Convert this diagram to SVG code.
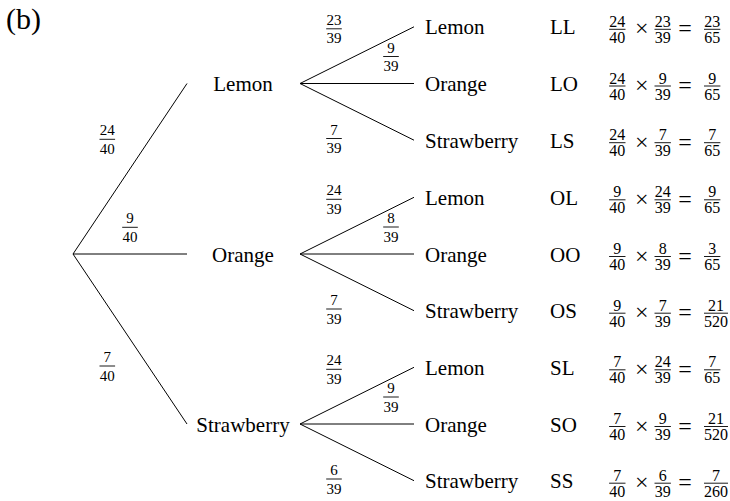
<svg xmlns="http://www.w3.org/2000/svg" width="730" height="501" viewBox="0 0 730 501">
<style>
text{font-family:"Liberation Serif","Times New Roman",serif;fill:#000}
.nd{font-size:21px}
.ndm{font-size:21px;text-anchor:middle}
.f{font-size:15px;text-anchor:middle}
.e{font-size:16px;text-anchor:middle}
.op{font-size:24px;text-anchor:middle}
.bar{stroke:#000;stroke-width:0.9}
.edge{stroke:#000;stroke-width:1;fill:none}
</style>
<rect width="730" height="501" fill="#fff"/>
<text x="6" y="29" style="font-size:30px">(b)</text>

<g id="connectors">
<path class="edge" d="M73,254 L187,83.5 M73,254 L187,254 M73,254 L187,424"/>
<path class="edge" d="M300,83.5 L414,26.8 M300,83.5 L414,83.5 M300,83.5 L414,140.2"/>
<path class="edge" d="M300,254 L414,197.3 M300,254 L414,254 M300,254 L414,310.7"/>
<path class="edge" d="M300,424 L414,367.3 M300,424 L414,424 M300,424 L414,480.7"/>
</g>

<g id="edge-labels">
<g transform="translate(107.3,139.3)"><text class="f" y="-4">24</text><line class="bar" x1="-7.8" x2="7.8"/><text class="f" y="14.5">40</text></g>
<g transform="translate(130,227.3)"><text class="f" y="-4">9</text><line class="bar" x1="-7.8" x2="7.8"/><text class="f" y="14.5">40</text></g>
<g transform="translate(107.3,366)"><text class="f" y="-4">7</text><line class="bar" x1="-7.8" x2="7.8"/><text class="f" y="14.5">40</text></g>

<g transform="translate(334,28.8)"><text class="f" y="-4">23</text><line class="bar" x1="-7.8" x2="7.8"/><text class="f" y="14.5">39</text></g>
<g transform="translate(391,56.5)"><text class="f" y="-4">9</text><line class="bar" x1="-7.8" x2="7.8"/><text class="f" y="14.5">39</text></g>
<g transform="translate(334,138.5)"><text class="f" y="-4">7</text><line class="bar" x1="-7.8" x2="7.8"/><text class="f" y="14.5">39</text></g>

<g transform="translate(334,199.3)"><text class="f" y="-4">24</text><line class="bar" x1="-7.8" x2="7.8"/><text class="f" y="14.5">39</text></g>
<g transform="translate(391,227)"><text class="f" y="-4">8</text><line class="bar" x1="-7.8" x2="7.8"/><text class="f" y="14.5">39</text></g>
<g transform="translate(334,309)"><text class="f" y="-4">7</text><line class="bar" x1="-7.8" x2="7.8"/><text class="f" y="14.5">39</text></g>

<g transform="translate(334,369.3)"><text class="f" y="-4">24</text><line class="bar" x1="-7.8" x2="7.8"/><text class="f" y="14.5">39</text></g>
<g transform="translate(391,397)"><text class="f" y="-4">9</text><line class="bar" x1="-7.8" x2="7.8"/><text class="f" y="14.5">39</text></g>
<g transform="translate(334,479)"><text class="f" y="-4">6</text><line class="bar" x1="-7.8" x2="7.8"/><text class="f" y="14.5">39</text></g>
</g>

<g id="node-L"><text class="ndm" x="243" y="91">Lemon</text></g>
<g id="node-O"><text class="ndm" x="243" y="261.5">Orange</text></g>
<g id="node-S"><text class="ndm" x="243" y="431.5">Strawberry</text></g>

<g id="leaf-LL"><text class="nd" x="425" y="34.3">Lemon</text><text class="nd" x="550" y="34.3">LL</text>
<g transform="translate(617.3,29.3)"><text class="e" y="-2.5">24</text><line class="bar" x1="-8.2" x2="8.2"/><text class="e" y="13.5">40</text></g>
<text class="op" x="641.7" y="36.3">×</text>
<g transform="translate(662.7,29.3)"><text class="e" y="-2.5">23</text><line class="bar" x1="-8.2" x2="8.2"/><text class="e" y="13.5">39</text></g>
<text class="op" x="685" y="36.3">=</text>
<g transform="translate(712.2,29.3)"><text class="e" y="-2.5">23</text><line class="bar" x1="-8.2" x2="8.2"/><text class="e" y="13.5">65</text></g>
</g>

<g id="leaf-LO"><text class="nd" x="425" y="91">Orange</text><text class="nd" x="550" y="91">LO</text>
<g transform="translate(617.3,86)"><text class="e" y="-2.5">24</text><line class="bar" x1="-8.2" x2="8.2"/><text class="e" y="13.5">40</text></g>
<text class="op" x="641.7" y="93">×</text>
<g transform="translate(662.7,86)"><text class="e" y="-2.5">9</text><line class="bar" x1="-8.2" x2="8.2"/><text class="e" y="13.5">39</text></g>
<text class="op" x="685" y="93">=</text>
<g transform="translate(712.2,86)"><text class="e" y="-2.5">9</text><line class="bar" x1="-8.2" x2="8.2"/><text class="e" y="13.5">65</text></g>
</g>

<g id="leaf-LS"><text class="nd" x="425" y="147.7">Strawberry</text><text class="nd" x="550" y="147.7">LS</text>
<g transform="translate(617.3,142.7)"><text class="e" y="-2.5">24</text><line class="bar" x1="-8.2" x2="8.2"/><text class="e" y="13.5">40</text></g>
<text class="op" x="641.7" y="149.7">×</text>
<g transform="translate(662.7,142.7)"><text class="e" y="-2.5">7</text><line class="bar" x1="-8.2" x2="8.2"/><text class="e" y="13.5">39</text></g>
<text class="op" x="685" y="149.7">=</text>
<g transform="translate(712.2,142.7)"><text class="e" y="-2.5">7</text><line class="bar" x1="-8.2" x2="8.2"/><text class="e" y="13.5">65</text></g>
</g>

<g id="leaf-OL"><text class="nd" x="425" y="204.8">Lemon</text><text class="nd" x="550" y="204.8">OL</text>
<g transform="translate(617.3,199.8)"><text class="e" y="-2.5">9</text><line class="bar" x1="-8.2" x2="8.2"/><text class="e" y="13.5">40</text></g>
<text class="op" x="641.7" y="206.8">×</text>
<g transform="translate(662.7,199.8)"><text class="e" y="-2.5">24</text><line class="bar" x1="-8.2" x2="8.2"/><text class="e" y="13.5">39</text></g>
<text class="op" x="685" y="206.8">=</text>
<g transform="translate(712.2,199.8)"><text class="e" y="-2.5">9</text><line class="bar" x1="-8.2" x2="8.2"/><text class="e" y="13.5">65</text></g>
</g>

<g id="leaf-OO"><text class="nd" x="425" y="261.5">Orange</text><text class="nd" x="550" y="261.5">OO</text>
<g transform="translate(617.3,256.5)"><text class="e" y="-2.5">9</text><line class="bar" x1="-8.2" x2="8.2"/><text class="e" y="13.5">40</text></g>
<text class="op" x="641.7" y="263.5">×</text>
<g transform="translate(662.7,256.5)"><text class="e" y="-2.5">8</text><line class="bar" x1="-8.2" x2="8.2"/><text class="e" y="13.5">39</text></g>
<text class="op" x="685" y="263.5">=</text>
<g transform="translate(712.2,256.5)"><text class="e" y="-2.5">3</text><line class="bar" x1="-8.2" x2="8.2"/><text class="e" y="13.5">65</text></g>
</g>

<g id="leaf-OS"><text class="nd" x="425" y="318.2">Strawberry</text><text class="nd" x="550" y="318.2">OS</text>
<g transform="translate(617.3,313.2)"><text class="e" y="-2.5">9</text><line class="bar" x1="-8.2" x2="8.2"/><text class="e" y="13.5">40</text></g>
<text class="op" x="641.7" y="320.2">×</text>
<g transform="translate(662.7,313.2)"><text class="e" y="-2.5">7</text><line class="bar" x1="-8.2" x2="8.2"/><text class="e" y="13.5">39</text></g>
<text class="op" x="685" y="320.2">=</text>
<g transform="translate(716,313.2)"><text class="e" y="-2.5">21</text><line class="bar" x1="-12" x2="12"/><text class="e" y="13.5">520</text></g>
</g>

<g id="leaf-SL"><text class="nd" x="425" y="374.8">Lemon</text><text class="nd" x="550" y="374.8">SL</text>
<g transform="translate(617.3,369.8)"><text class="e" y="-2.5">7</text><line class="bar" x1="-8.2" x2="8.2"/><text class="e" y="13.5">40</text></g>
<text class="op" x="641.7" y="376.8">×</text>
<g transform="translate(662.7,369.8)"><text class="e" y="-2.5">24</text><line class="bar" x1="-8.2" x2="8.2"/><text class="e" y="13.5">39</text></g>
<text class="op" x="685" y="376.8">=</text>
<g transform="translate(712.2,369.8)"><text class="e" y="-2.5">7</text><line class="bar" x1="-8.2" x2="8.2"/><text class="e" y="13.5">65</text></g>
</g>

<g id="leaf-SO"><text class="nd" x="425" y="431.5">Orange</text><text class="nd" x="550" y="431.5">SO</text>
<g transform="translate(617.3,426.5)"><text class="e" y="-2.5">7</text><line class="bar" x1="-8.2" x2="8.2"/><text class="e" y="13.5">40</text></g>
<text class="op" x="641.7" y="433.5">×</text>
<g transform="translate(662.7,426.5)"><text class="e" y="-2.5">9</text><line class="bar" x1="-8.2" x2="8.2"/><text class="e" y="13.5">39</text></g>
<text class="op" x="685" y="433.5">=</text>
<g transform="translate(716,426.5)"><text class="e" y="-2.5">21</text><line class="bar" x1="-12" x2="12"/><text class="e" y="13.5">520</text></g>
</g>

<g id="leaf-SS"><text class="nd" x="425" y="488.2">Strawberry</text><text class="nd" x="550" y="488.2">SS</text>
<g transform="translate(617.3,483.2)"><text class="e" y="-2.5">7</text><line class="bar" x1="-8.2" x2="8.2"/><text class="e" y="13.5">40</text></g>
<text class="op" x="641.7" y="490.2">×</text>
<g transform="translate(662.7,483.2)"><text class="e" y="-2.5">6</text><line class="bar" x1="-8.2" x2="8.2"/><text class="e" y="13.5">39</text></g>
<text class="op" x="685" y="490.2">=</text>
<g transform="translate(716,483.2)"><text class="e" y="-2.5">7</text><line class="bar" x1="-12" x2="12"/><text class="e" y="13.5">260</text></g>
</g>
</svg>
